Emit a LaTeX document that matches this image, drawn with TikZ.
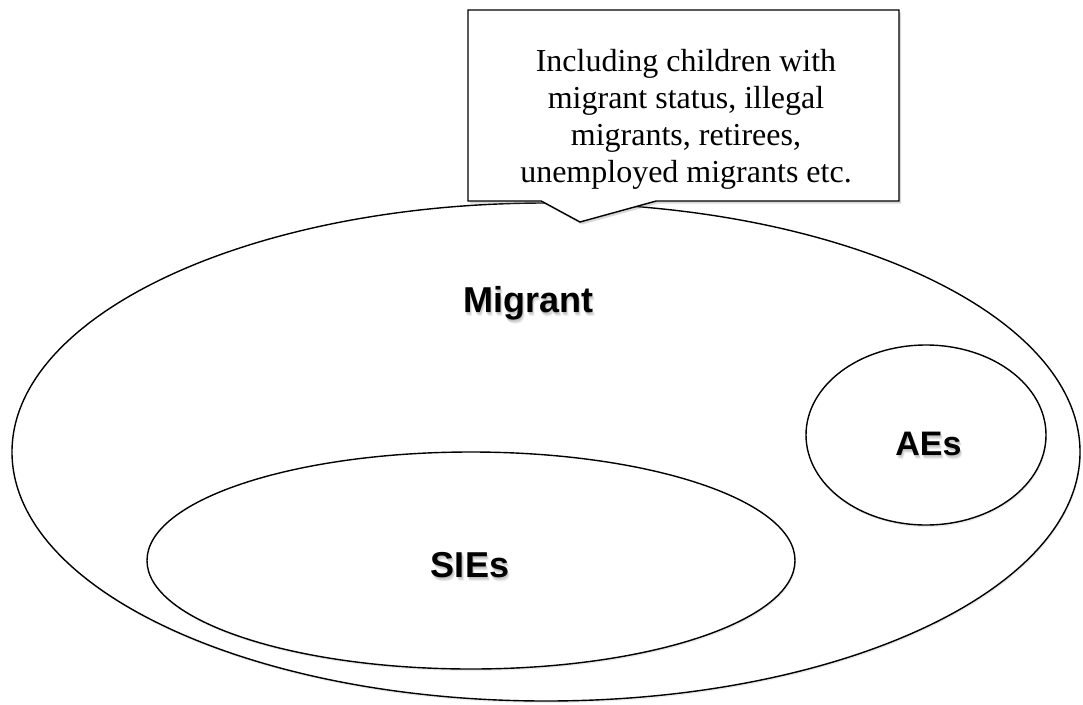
\documentclass[tikz,border=0pt]{standalone}
\usepackage{fontspec}
\setmainfont{Liberation Serif}
\newfontfamily\labelfont{Liberation Sans}
\usetikzlibrary{shapes.geometric,shapes.callouts,shadows}

\begin{document}
\begin{tikzpicture}[x=1pt,y=-1pt,
  setring/.style={ellipse, draw, line width=1.4pt, fill=white, inner sep=0pt,
    drop shadow={shadow xshift=0.8pt, shadow yshift=-2pt, opacity=0.16}},
  setlabel/.style={font=\labelfont\bfseries\fontsize{36}{40}\selectfont, inner sep=0pt, anchor=base},
  aelabel/.style={setlabel, font=\labelfont\bfseries\fontsize{34}{38}\selectfont},
  shade/.style={text=black, opacity=0.07},
  notebox/.style={rectangle callout, draw, line width=1.4pt, fill=white,
    minimum width=431pt, minimum height=191pt, inner sep=0pt,
    callout pointer width=115pt,
    drop shadow={shadow xshift=2pt, shadow yshift=-2.5pt, opacity=0.3}},
  notetext/.style={align=center, inner sep=0pt, font=\fontsize{32}{37}\selectfont}]
\useasboundingbox (0,0) rectangle (1083,704);

% nested sets
\node[setring, minimum width=1068pt, minimum height=498pt] (migrant) at (546,452) {};
\node[setring, minimum width=648pt, minimum height=217pt] (sies) at (471,560.5) {};
\node[setring, minimum width=240pt, minimum height=180pt] (aes) at (926,435) {};

% set labels, each over a soft shade
\foreach \dx/\dy in {0.5/1.5, 1/2.5, 1.5/3.5, 2/4.5} {
  \node[setlabel, shade] at (528+\dx,312+\dy) {Migrant};
  \node[setlabel, shade] at (470+\dx,577+\dy) {SIEs};
  \node[aelabel, shade] at (928.5+\dx,455+\dy) {AEs};
}
\node[setlabel] (migranttext) at (528,312) {Migrant};
\node[setlabel] (siestext) at (470,577) {SIEs};
\node[aelabel] (aestext) at (928.5,455) {AEs};

% explanatory note pointing at the outer set
\coordinate (tip) at (580,222);
\node[notebox, callout absolute pointer={(tip)}] (note) at (683.5,105.5) {};
\node[notetext] (notetext) at (686,119)
  {Including children with\\migrant status, illegal\\migrants, retirees,\\unemployed migrants etc.};
\end{tikzpicture}
\end{document}
